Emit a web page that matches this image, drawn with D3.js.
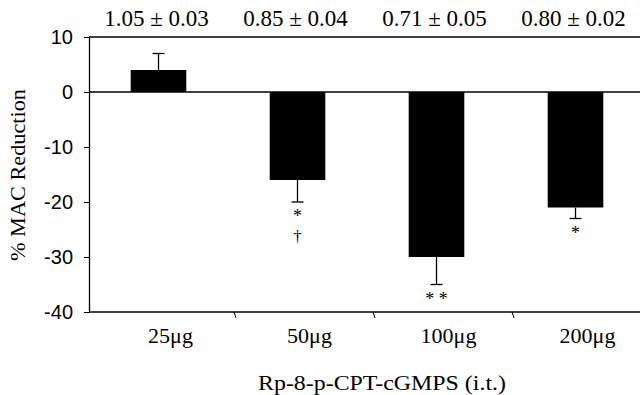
<!DOCTYPE html>
<html>
<head>
<meta charset="utf-8">
<script src="https://cdn.jsdelivr.net/npm/d3@7"></script>
<style>
body { margin: 0; background: #fff; }
svg { display: block; }
</style>
</head>
<body>
<svg id="chart" width="642" height="395"></svg>
<script>
var width = 642, height = 395;

var doses = ["25\u03bcg", "50\u03bcg", "100\u03bcg", "200\u03bcg"];
var reduction = [4, -16, -30, -21];
var errEnd = [7, -20, -35, -23];
var macLabels = ["1.05 \u00b1 0.03", "0.85 \u00b1 0.04", "0.71 \u00b1 0.05", "0.80 \u00b1 0.02"];
var marks = [[], ["*", "\u2020"], ["* *"], ["*"]];
var yTicks = [10, 0, -10, -20, -30, -40];

// plot box (note: "top" is a reserved window prop, so use plot* names)
var plotLeft = 89, plotRight = 645, plotTop = 37, plotBottom = 312;
var serif = "Liberation Serif, Times New Roman, serif";

var svg = d3.select("#chart");

var x = d3.scaleBand().domain(doses).range([plotLeft, plotRight]);
var y = d3.scaleLinear().domain([-40, 10]).range([plotBottom, plotTop]);

var barW = x.bandwidth() * 0.4;

// top frame line
svg.append("line")
    .attr("x1", plotLeft).attr("x2", 640)
    .attr("y1", plotTop).attr("y2", plotTop)
    .attr("stroke", "#000").attr("stroke-width", 1.3);

// y axis (plain hyphen minus like the original)
var yAxis = svg.append("g")
    .attr("transform", "translate(" + plotLeft + ",0)")
    .call(d3.axisLeft(y).tickValues(yTicks).tickSize(5).tickSizeOuter(0)
        .tickFormat(function(d) { return String(d); }));
yAxis.select(".domain").attr("stroke-width", 1.3);
yAxis.selectAll("text")
    .attr("font-family", "Liberation Sans, Arial, sans-serif")
    .attr("font-size", 20)
    .attr("fill", "#000")
    .attr("x", -16);

// bottom axis
svg.append("line")
    .attr("x1", plotLeft).attr("x2", 640)
    .attr("y1", plotBottom).attr("y2", plotBottom)
    .attr("stroke", "#000").attr("stroke-width", 1.3);
svg.selectAll(".xtick")
    .data(doses.slice(1))
    .join("line")
    .attr("class", "xtick")
    .attr("x1", function(d) { return x(d) + 6; })
    .attr("x2", function(d) { return x(d) + 8; })
    .attr("y1", plotBottom).attr("y2", plotBottom + 6)
    .attr("stroke", "#000");
svg.selectAll(".xlabel")
    .data(doses)
    .join("text")
    .attr("class", "xlabel")
    .attr("x", function(d) { return x(d) + x.bandwidth() / 2 + 12; })
    .attr("y", plotBottom + 31)
    .attr("text-anchor", "middle")
    .attr("font-family", serif)
    .attr("font-size", 22)
    .text(function(d) { return d; });

// zero line
svg.append("line")
    .attr("x1", plotLeft).attr("x2", 640)
    .attr("y1", y(0)).attr("y2", y(0))
    .attr("stroke", "#000").attr("stroke-width", 1.3);

// error bars
var cx = function(i) { return x(doses[i]) + x.bandwidth() / 2; };
svg.selectAll(".err")
    .data(reduction)
    .join("line")
    .attr("class", "err")
    .attr("x1", function(d, i) { return cx(i); })
    .attr("x2", function(d, i) { return cx(i); })
    .attr("y1", function(d) { return y(d); })
    .attr("y2", function(d, i) { return y(errEnd[i]); })
    .attr("stroke", "#000").attr("stroke-width", 1.3);
svg.selectAll(".cap")
    .data(errEnd)
    .join("line")
    .attr("class", "cap")
    .attr("x1", function(d, i) { return cx(i) - 6; })
    .attr("x2", function(d, i) { return cx(i) + 6; })
    .attr("y1", function(d) { return y(d); })
    .attr("y2", function(d) { return y(d); })
    .attr("stroke", "#000").attr("stroke-width", 1.3);

// bars
svg.selectAll(".bar")
    .data(reduction)
    .join("rect")
    .attr("class", "bar")
    .attr("x", function(d, i) { return cx(i) - barW / 2; })
    .attr("width", barW)
    .attr("y", function(d) { return y(Math.max(0, d)); })
    .attr("height", function(d) { return Math.abs(y(d) - y(0)); })
    .attr("fill", "#000");

// MAC values on top
svg.selectAll(".mac")
    .data(macLabels)
    .join("text")
    .attr("class", "mac")
    .attr("x", function(d, i) { return cx(i) - 2; })
    .attr("y", 26)
    .attr("text-anchor", "middle")
    .attr("font-family", serif)
    .attr("font-size", 23)
    .text(function(d) { return d; });

// significance marks
marks.forEach(function(m, i) {
    m.forEach(function(s, j) {
        svg.append("text")
            .attr("x", cx(i))
            .attr("y", y(errEnd[i]) + 20 + j * 20)
            .attr("text-anchor", "middle")
            .attr("font-family", serif)
            .attr("font-size", j ? 17 : 18)
            .text(s);
    });
});

// axis titles
svg.append("text")
    .attr("transform", "translate(25,175) rotate(-90)")
    .attr("text-anchor", "middle")
    .attr("font-family", serif)
    .attr("font-size", 21)
    .attr("textLength", 172)
    .attr("lengthAdjust", "spacingAndGlyphs")
    .text("% MAC Reduction");
svg.append("text")
    .attr("x", 382)
    .attr("y", 390)
    .attr("text-anchor", "middle")
    .attr("font-family", serif)
    .attr("font-size", 21)
    .attr("textLength", 248)
    .attr("lengthAdjust", "spacingAndGlyphs")
    .text("Rp-8-p-CPT-cGMPS (i.t.)");
</script>
</body>
</html>
